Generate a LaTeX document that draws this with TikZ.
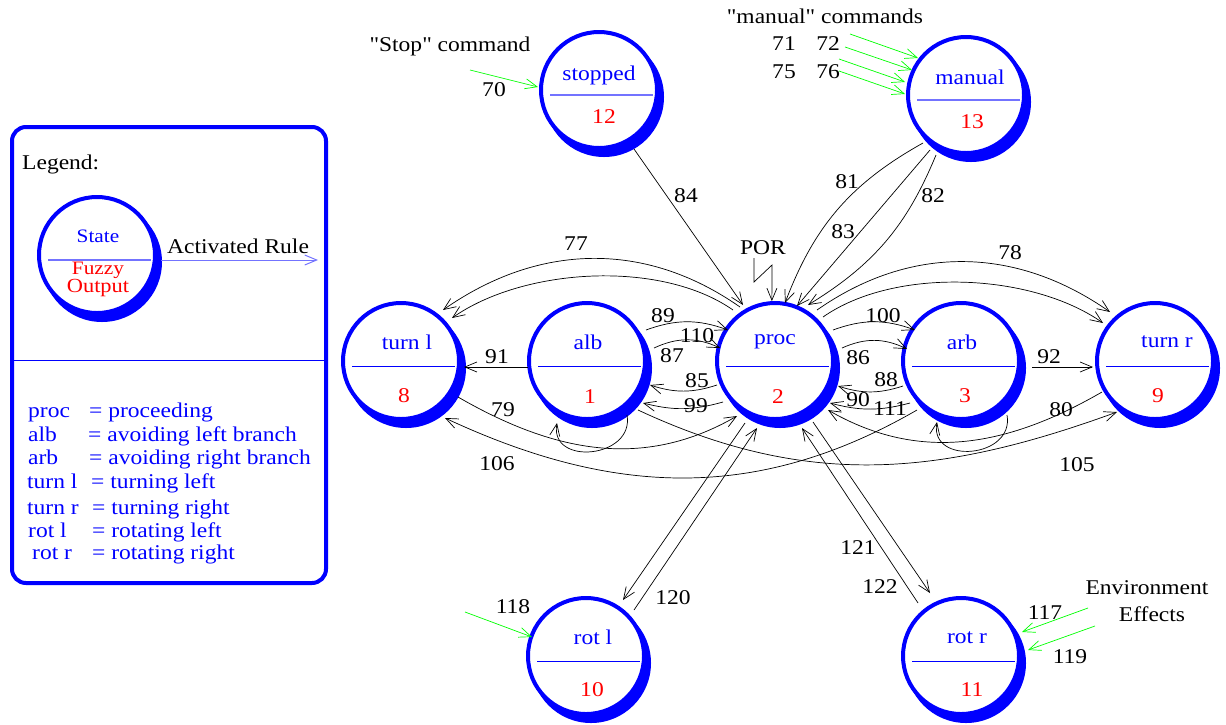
\documentclass[tikz,border=0pt]{standalone}
\usepackage{fontspec}
\setmainfont{Liberation Serif}[FakeStretch=1.12, Ligatures=TeXOff]
\usetikzlibrary{arrows.meta,calc}
% #1 name, #2 x, #3 y, #4 divider style, #5 label, #6 label offset, #7 number, #8 number offset
\newcommand\mkstate[8]{%
  \fill[blue] (#2+5,#3+7) circle[radius=60pt];
  \node[statecirc] (#1) at (#2,#3) {};
  \draw[#4] ($(#1)+(-49,5)$) -- ($(#1)+(54,5)$);
  \node[text=blue] at ($(#1)+(#6)$) {#5};
  \node[text=red] at ($(#1)+(#8)$) {#7};
}
\begin{document}
\begin{tikzpicture}[x=1pt,y=-1pt,
  every node/.style={font=\fontsize{21}{24}\selectfont, inner sep=0pt},
  statecirc/.style={circle, draw=blue, line width=4pt, fill=white, minimum size=116pt, inner sep=0pt},
  div/.style={blue, line width=1pt},
  divlight/.style={blue!55, line width=1.3pt},
  rule/.style={line width=0.7pt, -{Straight Barb[length=12pt,width=10pt,line width=0.7pt]}},
  envarrow/.style={green, line width=0.7pt, -{Straight Barb[length=12pt,width=10pt,line width=0.7pt]}},
  legarrow/.style={blue!55, line width=1pt, -{Straight Barb[length=12pt,width=10pt,line width=1pt]}},
  legtext/.style={text=blue, anchor=base west}
]
\useasboundingbox (0,0) rectangle (1226,724);

% ---------------- legend ----------------
\draw[blue, line width=4pt, rounded corners=14pt] (12,127) rectangle (326,583);
\draw[blue, line width=1pt] (14,360) -- (324,360);
\node[anchor=base west] (legtitle) at (22,169) {Legend:};
\fill[blue] (102,262) circle[radius=60pt];
\node[statecirc] (leg) at (97,255) {};
\draw[divlight] ($(leg)+(-49,5)$) -- ($(leg)+(54,5)$);
\node[text=blue, font=\fontsize{19}{22}\selectfont] (legstate) at ($(leg)+(1,-19)$) {State};
\node[text=red, font=\fontsize{19}{22}\selectfont] (legfuzzy) at ($(leg)+(1,15)$) {Fuzzy};
\node[text=red, font=\fontsize{20}{22}\selectfont] (legoutput) at ($(leg)+(1,33)$) {Output};
\coordinate (legend-end) at (318,260);
\draw[legarrow] ($(leg)+(64,5)$) -- (legend-end);
\node[anchor=base west] (legrule) at (167,253) {Activated Rule};

\node[legtext] (k1) at (28,417) {proc};   \node[legtext] (v1) at (89,417) {= proceeding};
\node[legtext] (k2) at (28,441) {alb};    \node[legtext] (v2) at (88,441) {= avoiding left branch};
\node[legtext] (k3) at (28,464) {arb};    \node[legtext] (v3) at (89,464) {= avoiding right branch};
\node[legtext] (k4) at (27,488) {turn l}; \node[legtext] (v4) at (91,488) {= turning left};
\node[legtext] (k5) at (27,514) {turn r}; \node[legtext] (v5) at (92,514) {= turning right};
\node[legtext] (k6) at (28,537) {rot l};  \node[legtext] (v6) at (92,537) {= rotating left};
\node[legtext] (k7) at (32,559) {rot r};  \node[legtext] (v7) at (92,559) {= rotating right};

% ---------------- states ----------------
\mkstate{S}{599}{90}{divlight}{stopped}{0,-15}{12}{5,27}
\mkstate{M}{966}{95}{divlight}{manual}{4,-18}{13}{6,27}
\mkstate{L}{401}{361}{div}{turn l}{6,-19}{8}{3,35}
\mkstate{A}{587}{361}{div}{alb}{1,-19}{1}{3,36}
\mkstate{P}{775}{361}{div}{proc}{0,-19}{2}{3,36}
\mkstate{B}{961}{361}{div}{arb}{1,-19}{3}{4,35}
\mkstate{R}{1155}{361}{div}{turn r}{12,-19}{9}{3,35}
\mkstate{RL}{586}{656}{div}{rot l}{7,-19}{10}{6,34}
\mkstate{RR}{961}{656}{div}{rot r}{6,-18}{11}{11,34}

% ---------------- external inputs ----------------
\node (stoptxt) at (450,46) {"Stop" command};
\node (n70) at (494,90) {70};
\coordinate (in70) at (470,70);
\draw[envarrow] (in70) -- ($(S)+(-61,-3)$);

\node (mantxt) at (825,16) {"manual" commands};
\node (n71) at (784,44) {71}; \node (n72) at (828,44) {72};
\node (n75) at (784,72) {75}; \node (n76) at (828,72) {76};
\coordinate (in71) at (850,34);
\coordinate (in72) at (845,47);
\coordinate (in75) at (839,59);
\coordinate (in76) at (839,71);
\draw[envarrow] (in71) -- ($(M)+(-48,-37)$);
\draw[envarrow] (in72) -- ($(M)+(-54,-25)$);
\draw[envarrow] (in75) -- ($(M)+(-61,-13)$);
\draw[envarrow] (in76) -- ($(M)+(-61,-1)$);

\node (n118) at (513,607) {118};
\coordinate (in118) at (465,612);
\draw[envarrow] (in118) -- ($(RL)+(-54,-19)$);

\node (envtxt1) at (1147,588) {Environment};
\node (envtxt2) at (1152,614) {Effects};
\node (n117) at (1045,613) {117};
\node (n119) at (1070,657) {119};
\coordinate (in117) at (1088,608);
\coordinate (in119) at (1095,626);
\draw[envarrow] (in117) -- ($(RR)+(61,-24)$);
\draw[envarrow] (in119) -- ($(RR)+(67,-6)$);

% POR
\node (por) at (763,248) {POR};
\draw[rule] (754,258) -- (754,282) -- (772,265) -- (P.93);

% ---------------- rules ----------------
\draw[rule] ($(S)+(35,59)$) -- ($(P)+(-32,-56)$);
\draw[rule] ($(M)+(-43,48)$) to[bend right=20] ($(P)+(10,-58)$);
\draw[rule] ($(M)+(-36,55)$) -- ($(P)+(22,-55)$);
\draw[rule] ($(M)+(-30,60)$) to[bend left=18] ($(P)+(33,-56)$);

\draw[rule] ($(P)+(-35,-54)$) to[out=145,in=35,looseness=1] ($(L)+(42,-51)$);
\draw[rule] ($(P)+(-42,-51)$) to[out=145,in=35,looseness=0.8] ($(L)+(51,-43)$);
\draw[rule] ($(P)+(42,-51)$) to[out=35,in=145,looseness=1] ($(R)+(-45,-49)$);
\draw[rule] ($(P)+(48,-44)$) to[out=35,in=145,looseness=0.8] ($(R)+(-52,-38)$);

\draw[rule] ($(A)+(59,-31)$) to[bend left=20] ($(P)+(-47,-31)$);
\draw[rule] ($(A)+(67,-13)$) to[bend left=25] ($(P)+(-55,-13)$);
\draw[rule] ($(P)+(-58,24)$) to[bend left=18] ($(A)+(63,24)$);
\draw[rule] ($(P)+(-52,41)$) to[bend left=15] ($(A)+(56,42)$);

\draw[rule] ($(P)+(58,-31)$) to[bend left=20] ($(B)+(-46,-31)$);
\draw[rule] ($(P)+(67,-13)$) to[bend left=25] ($(B)+(-54,-12)$);
\draw[rule] ($(B)+(-58,25)$) to[bend left=18] ($(P)+(63,25)$);
\draw[rule] ($(B)+(-51,42)$) to[bend left=15] ($(P)+(55,42)$);

\draw[rule] ($(A)+(-59,6)$) -- ($(L)+(63,6)$);
\draw[rule] ($(B)+(71,6)$) -- ($(R)+(-62,6)$);

\draw[rule] ($(A)+(40,54)$) to[out=-80,in=-100,looseness=1.6] ($(A)+(-30,62)$);
\draw[rule] ($(B)+(46,54)$) to[out=-80,in=-100,looseness=1.6] ($(B)+(-24,61)$);

\draw[rule] ($(L)+(57,36)$) to[out=-30,in=210] ($(P)+(-38,55)$);
\draw[rule] ($(R)+(-53,31)$) to[out=210,in=-30] ($(P)+(53,49)$);
\draw[rule] ($(A)+(51,49)$) to[out=-25,in=200] ($(R)+(-38,51)$);
\draw[rule] ($(B)+(-44,49)$) to[out=210,in=-25] ($(L)+(44,57)$);

\draw[rule] ($(P)+(-30,62)$) -- ($(RL)+(37,-56)$);
\draw[rule] ($(RL)+(48,-46)$) -- ($(P)+(-18,67)$);
\draw[rule] ($(P)+(38,61)$) -- ($(RR)+(-31,-63)$);
\draw[rule] ($(RR)+(-43,-53)$) -- ($(P)+(27,67)$);

% ---------------- rule labels ----------------
\node (l84) at (686,196) {84};
\node (l81) at (847,182) {81};
\node (l83) at (843,232) {83};
\node (l82) at (933,196) {82};
\node (l77) at (576,244) {77};
\node (l78) at (1010,253) {78};
\node (l89) at (663,316) {89};
\node (l110) at (697,336) {110};
\node (l87) at (672,356) {87};
\node (l85) at (697,381) {85};
\node (l99) at (696,406) {99};
\node (l100) at (883,316) {100};
\node (l86) at (858,358) {86};
\node (l88) at (886,380) {88};
\node (l90) at (858,400) {90};
\node (l111) at (890,409) {111};
\node (l91) at (497,357) {91};
\node (l92) at (1049,357) {92};
\node (l79) at (503,410) {79};
\node (l80) at (1061,410) {80};
\node (l106) at (497,464) {106};
\node (l105) at (1077,465) {105};
\node (l120) at (673,598) {120};
\node (l121) at (858,548) {121};
\node (l122) at (880,587) {122};
\end{tikzpicture}
\end{document}
